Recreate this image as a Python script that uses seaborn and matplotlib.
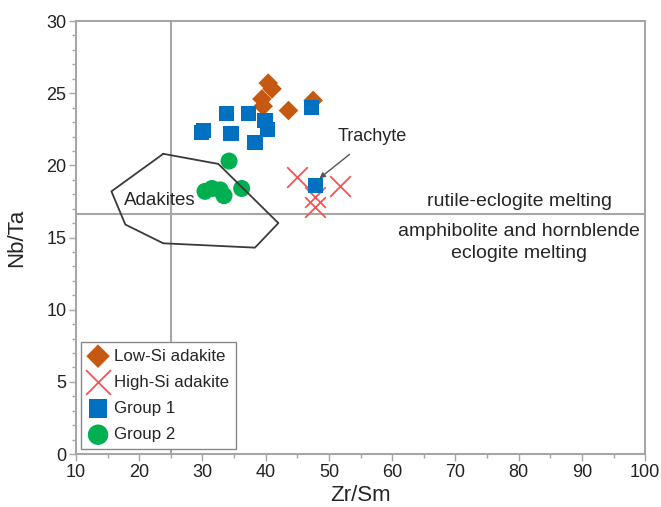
import matplotlib
matplotlib.use("Agg")
import matplotlib.pyplot as plt
import seaborn as sns
import pandas as pd
from matplotlib.ticker import MultipleLocator

# Data
low_si_x = [40.4, 41.0, 39.4, 39.6, 43.6, 47.5]
low_si_y = [25.7, 25.3, 24.6, 24.1, 23.8, 24.5]

high_si_x = [45.0, 51.8, 47.8, 47.8]
high_si_y = [19.2, 18.6, 17.8, 17.1]

group1_x = [30.1, 29.9, 33.8, 34.5, 37.3, 39.9, 40.3, 38.3, 47.3, 47.9]
group1_y = [22.4, 22.3, 23.6, 22.2, 23.6, 23.1, 22.5, 21.6, 24.0, 18.6]

group2_x = [34.2, 30.4, 31.5, 32.8, 33.4, 36.2]
group2_y = [20.3, 18.2, 18.4, 18.3, 17.9, 18.4]

adakite_poly_x = [23.8, 32.5, 42.0, 38.3, 23.8, 17.8, 15.6, 23.8]
adakite_poly_y = [20.8, 20.1, 16.0, 14.3, 14.6, 15.9, 18.2, 20.8]

xticks = [10, 20, 30, 40, 50, 60, 70, 80, 90, 100]
yticks = [0, 5, 10, 15, 20, 25, 30]

sns.set_style("white")
plt.rcParams['font.family'] = ['Liberation Sans', 'DejaVu Sans']

fig = plt.figure(figsize=(6.61, 5.07), dpi=100)
ax = fig.add_axes([0.115, 0.1045, 0.861, 0.854])

spine_col = '#A6A6A6'

# reference lines
ax.axvline(25, color=spine_col, lw=1.5, zorder=1)
ax.axhline(16.6, color=spine_col, lw=1.5, zorder=1)

df_hi = pd.DataFrame({'x': high_si_x, 'y': high_si_y})
df_lo = pd.DataFrame({'x': low_si_x, 'y': low_si_y})
df_g1 = pd.DataFrame({'x': group1_x, 'y': group1_y})
df_g2 = pd.DataFrame({'x': group2_x, 'y': group2_y})

sns.scatterplot(data=df_lo, x='x', y='y', marker='D', s=100, color='#C65911',
                edgecolor='none', label='Low-Si adakite', ax=ax, zorder=3)
sns.scatterplot(data=df_hi, x='x', y='y', marker='x', s=220, color='#FF5050',
                linewidth=1.3, label='High-Si adakite', ax=ax, zorder=3)
sns.scatterplot(data=df_g1, x='x', y='y', marker='s', s=120, color='#0070C0',
                edgecolor='none', label='Group 1', ax=ax, zorder=4)
sns.scatterplot(data=df_g2, x='x', y='y', marker='o', s=150, color='#00B050',
                edgecolor='none', label='Group 2', ax=ax, zorder=3)

ax.plot(adakite_poly_x, adakite_poly_y, color='#3A3A3A', lw=1.3, zorder=5)

ax.text(23.3, 17.55, 'Adakites', fontsize=13.5, ha='center', va='center', zorder=6)
ax.annotate('Trachyte', xy=(48.5, 19.1), xytext=(56.8, 22.0), fontsize=13,
            ha='center', va='center',
            arrowprops=dict(arrowstyle='-|>', color='#555555', lw=1,
                            shrinkA=7, shrinkB=0, mutation_scale=8),
            zorder=6)
ax.text(80.1, 17.5, 'rutile-eclogite melting', fontsize=14, ha='center', va='center')
ax.text(80.1, 15.4, 'amphibolite and hornblende', fontsize=14, ha='center', va='center')
ax.text(80.1, 13.9, 'eclogite melting', fontsize=14, ha='center', va='center')

ax.set_xlim(10, 100)
ax.set_ylim(0, 30)
ax.set_xticks(xticks)
ax.set_yticks(yticks)
ax.xaxis.set_minor_locator(MultipleLocator(5))
ax.yaxis.set_minor_locator(MultipleLocator(1))
ax.tick_params(which='major', direction='out', length=5, width=1, color=spine_col,
               labelsize=13, labelcolor='#222222', bottom=True, left=True, pad=2)
ax.tick_params(which='minor', direction='out', length=3, width=1, color=spine_col,
               bottom=True, left=True)
for sp in ax.spines.values():
    sp.set_color(spine_col)
    sp.set_linewidth(1.5)

ax.set_xlabel('Zr/Sm', fontsize=16, labelpad=3)
ax.set_ylabel('Nb/Ta', fontsize=16, labelpad=14)

leg = ax.legend(loc='lower left', fontsize=12.2, frameon=True, fancybox=False,
                edgecolor='#888888', framealpha=1, borderpad=0.4,
                handletextpad=0.35, labelspacing=0.66, handlelength=1.2,
                markerscale=1.2,
                bbox_to_anchor=(0.0, 0.0), borderaxespad=0.3)
leg.set_zorder(10)
leg.get_frame().set_linewidth(1)

fig.savefig('out.png', dpi=100)
